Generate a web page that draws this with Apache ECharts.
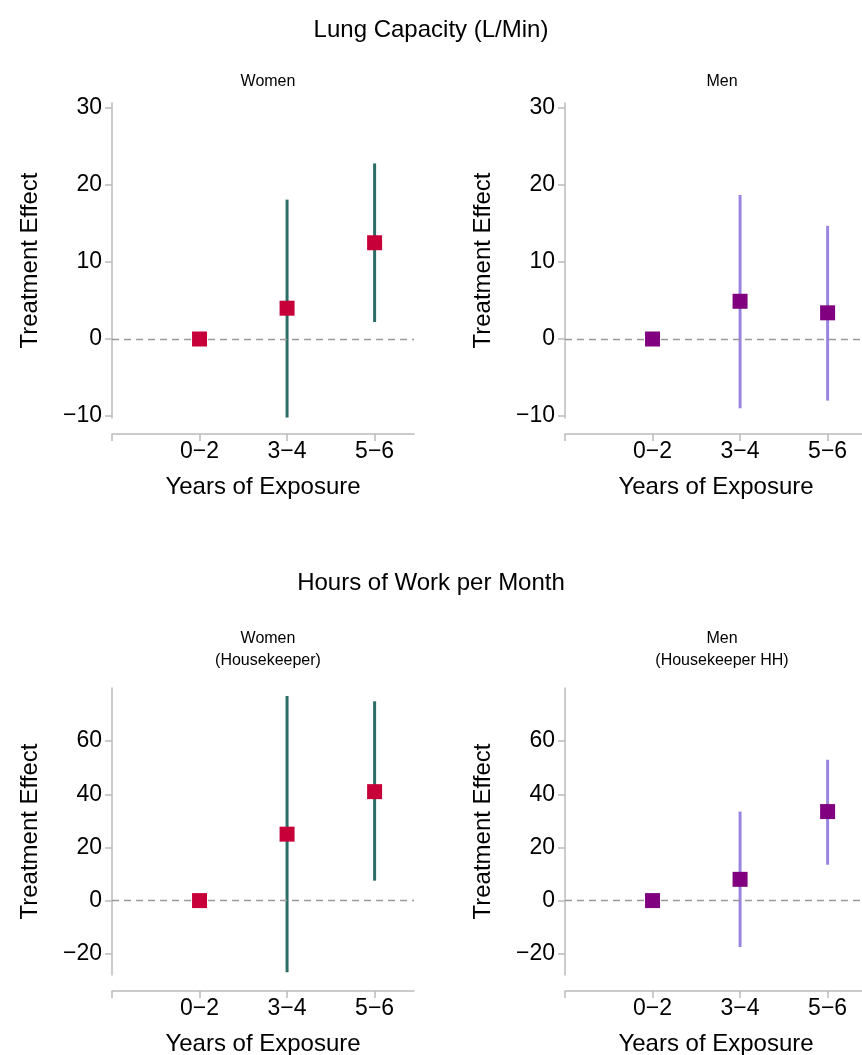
<!DOCTYPE html>
<html lang="en">
<head>
    <meta charset="UTF-8">
    <title>Treatment Effects</title>
    <script src="https://cdn.jsdelivr.net/npm/echarts@6/dist/echarts.min.js"></script>
    <style>
        body { margin: 0; background: #fff; }
    </style>
</head>
<body>
    <div id="myCharts" style="width: 862px;height:1055px;"></div>
    <script type="text/javascript">
        var categories = ['0\u22122', '3\u22124', '5\u22126']
        // lung capacity
        var lungWomenEst = [0, 4.0, 12.5]
        var lungWomenLo = [null, -10.2, 2.2]
        var lungWomenHi = [null, 18.1, 22.8]
        var lungMenEst = [0, 4.9, 3.4]
        var lungMenLo = [null, -9.0, -8.0]
        var lungMenHi = [null, 18.7, 14.7]
        // hours of work
        var hoursWomenEst = [0, 25, 41]
        var hoursWomenLo = [null, -27, 7.5]
        var hoursWomenHi = [null, 77, 75]
        var hoursMenEst = [0, 8, 33.5]
        var hoursMenLo = [null, -17.5, 13.5]
        var hoursMenHi = [null, 33.5, 53]
        var lungTicks = [-10, 0, 10, 20, 30]
        var hoursTicks = [-20, 0, 20, 40, 60]

        var myChart = echarts.init(document.getElementById('myCharts'))
        var axisGray = '#bbbbbb'
        var panels = [
            { left: 112, top: 103, height: 315, min: -10.26, max: 30.65, ticks: lungTicks, est: lungWomenEst, lo: lungWomenLo, hi: lungWomenHi, dot: '#c8003a', bar: '#2a6e66' },
            { left: 565, top: 103, height: 315, min: -10.26, max: 30.65, ticks: lungTicks, est: lungMenEst, lo: lungMenLo, hi: lungMenHi, dot: '#800080', bar: '#9a86e0' },
            { left: 112, top: 688, height: 287, min: -28, max: 80, ticks: hoursTicks, est: hoursWomenEst, lo: hoursWomenLo, hi: hoursWomenHi, dot: '#c8003a', bar: '#2a6e66' },
            { left: 565, top: 688, height: 287, min: -28, max: 80, ticks: hoursTicks, est: hoursMenEst, lo: hoursMenLo, hi: hoursMenHi, dot: '#800080', bar: '#9a86e0' }
        ]
        var grid = [], xAxis = [], yAxis = [], series = []
        panels.forEach(function (p, i) {
            grid.push({ left: p.left, top: p.top, width: 302, height: p.height, outerBoundsMode: 'none', containLabel: false })
            xAxis.push({
                gridIndex: i, type: 'value', min: 0, max: 3.45, offset: 16,
                axisLine: { show: true, onZero: false, lineStyle: { color: axisGray, width: 1.5 } },
                axisTick: { show: true, length: 7, customValues: [0, 1, 2, 3], lineStyle: { color: axisGray, width: 1.5 } },
                axisLabel: { customValues: [1, 2, 3], color: '#000', fontSize: 23, margin: 6,
                    formatter: function (v) { return categories[Math.round(v) - 1] || '' } },
                splitLine: { show: false },
                name: 'Years of Exposure', nameLocation: 'middle', nameGap: 41,
                nameTextStyle: { color: '#000', fontSize: 24 }
            })
            yAxis.push({
                gridIndex: i, type: 'value', min: p.min, max: p.max,
                axisLine: { show: true, lineStyle: { color: axisGray, width: 1.5 } },
                axisTick: { show: true, length: 7, customValues: p.ticks, lineStyle: { color: axisGray, width: 1.5 } },
                axisLabel: { customValues: p.ticks, color: '#000', fontSize: 23, margin: 10,
                    formatter: function (v) { return String(v).replace('-', '\u2212') } },
                splitLine: { show: false },
                name: 'Treatment Effect', nameLocation: 'middle', nameGap: 70,
                nameTextStyle: { color: '#000', fontSize: 24 }
            })
            var bars = []
            p.est.forEach(function (v, k) {
                if (p.lo[k] !== null) bars.push([k + 1, p.lo[k], p.hi[k]])
            })
            series.push({
                type: 'custom', xAxisIndex: i, yAxisIndex: i, data: bars,
                renderItem: function (params, api) {
                    var a = api.coord([api.value(0), api.value(1)])
                    var b = api.coord([api.value(0), api.value(2)])
                    return { type: 'line', shape: { x1: a[0], y1: a[1], x2: b[0], y2: b[1] },
                        style: { stroke: p.bar, lineWidth: 3 } }
                }
            })
            series.push({
                type: 'scatter', xAxisIndex: i, yAxisIndex: i, z: 5,
                symbol: 'rect', symbolSize: 15,
                itemStyle: { color: p.dot, opacity: 1 },
                data: p.est.map(function (v, k) { return [k + 1, v] }),
                markLine: {
                    silent: true, symbol: 'none', label: { show: false },
                    lineStyle: { color: '#999', type: [7, 5], width: 1.3 },
                    data: [{ yAxis: 0 }]
                }
            })
        })
        var option = {
            animation: false,
            title: [
                { text: 'Lung Capacity (L/Min)', left: 'center', top: 13, textStyle: { fontSize: 24, fontWeight: 'normal', color: '#000' } },
                { text: 'Women', left: 263, textAlign: 'center', top: 69, textStyle: { fontSize: 16, fontWeight: 'normal', color: '#000' } },
                { text: 'Men', left: 717, textAlign: 'center', top: 69, textStyle: { fontSize: 16, fontWeight: 'normal', color: '#000' } },
                { text: 'Hours of Work per Month', left: 'center', top: 566, textStyle: { fontSize: 24, fontWeight: 'normal', color: '#000' } },
                { text: 'Women\n(Housekeeper)', left: 263, textAlign: 'center', top: 623, textStyle: { fontSize: 16, fontWeight: 'normal', color: '#000', lineHeight: 22, align: 'center' } },
                { text: 'Men\n(Housekeeper HH)', left: 717, textAlign: 'center', top: 623, textStyle: { fontSize: 16, fontWeight: 'normal', color: '#000', lineHeight: 22, align: 'center' } }
            ],
            textStyle: { fontFamily: 'Liberation Sans, Arial, sans-serif' },
            grid: grid, xAxis: xAxis, yAxis: yAxis, series: series
        }
        myChart.setOption(option)
    </script>
</body>
</html>
